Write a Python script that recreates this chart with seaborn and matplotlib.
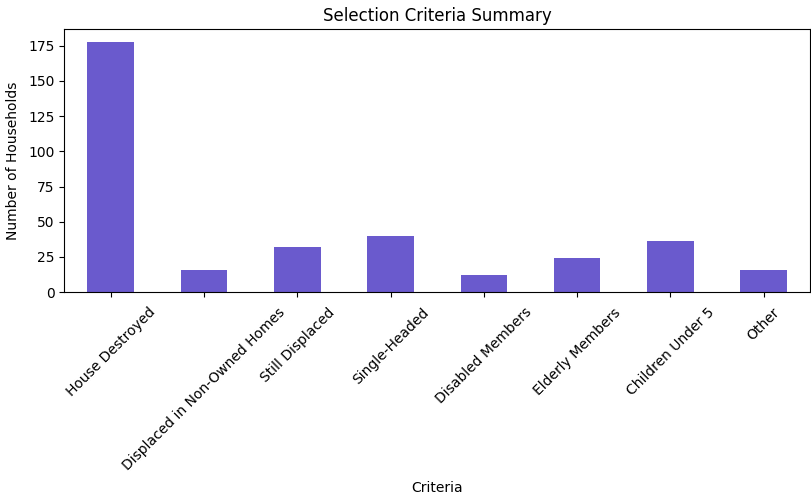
import matplotlib
matplotlib.use('Agg')
import matplotlib.pyplot as plt
import seaborn as sns
import pandas as pd

# Data
criteria = ['House Destroyed', 'Displaced in Non-Owned Homes', 'Still Displaced',
            'Single-Headed', 'Disabled Members', 'Elderly Members',
            'Children Under 5', 'Other']
households = [178, 16, 32, 40, 12, 24, 36, 16]

df = pd.DataFrame({'Criteria': criteria, 'Households': households})

fig, ax = plt.subplots(figsize=(8.12, 5.01), dpi=100)
sns.barplot(data=df, x='Criteria', y='Households', color='slateblue',
            saturation=1, width=0.5, ax=ax)
ax.set_xlim(-0.5, len(criteria) - 0.5)
ax.set_title('Selection Criteria Summary')
ax.set_xlabel('Criteria', labelpad=6)
ax.set_ylabel('Number of Households', labelpad=5.5)
ax.tick_params(axis='x', pad=6)
plt.xticks(rotation=45)
fig.subplots_adjust(left=0.079, right=0.998, top=0.942, bottom=0.417)
fig.savefig('out.png', dpi=100)
